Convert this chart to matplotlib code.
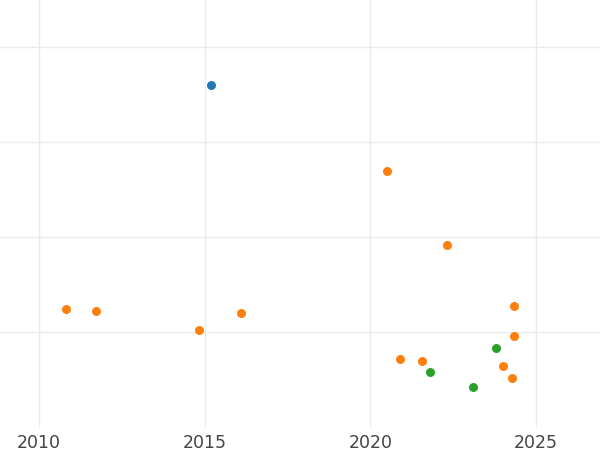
import matplotlib
matplotlib.use("Agg")
import matplotlib.pyplot as plt

# three groups of points (year, value)
blue_x = [2015.19]
blue_y = [3.60]

orange_x = [2020.50, 2022.31, 2010.81, 2011.72, 2014.83, 2016.09,
            2024.33, 2024.33, 2020.89, 2021.56, 2024.00, 2024.27]
orange_y = [2.695, 1.916, 1.242, 1.221, 1.021, 1.200,
            1.274, 0.958, 0.716, 0.695, 0.642, 0.516]

green_x = [2023.79, 2021.80, 2023.10]
green_y = [0.832, 0.579, 0.421]

year_ticks = [2010, 2015, 2020, 2025]
value_grid = [1, 2, 3, 4]

fig = plt.figure(figsize=(6, 4.5), dpi=100)
ax = fig.add_axes([0, 50 / 450 - 27 / 450, 1, 427 / 450])

ax.scatter(blue_x, blue_y, s=42, color="#1f77b4", linewidths=0, zorder=3)
ax.scatter(orange_x, orange_y, s=42, color="#ff7f0e", linewidths=0, zorder=3)
ax.scatter(green_x, green_y, s=42, color="#2ca02c", linewidths=0, zorder=3)

ax.set_xlim(2008.82, 2026.93)
ax.set_ylim(0, 4.495)
ax.set_xticks(year_ticks)
ax.set_xticklabels([str(y) for y in year_ticks])
ax.set_yticks(value_grid)
ax.set_yticklabels([])

ax.grid(True, color="#ebebeb", linewidth=1)
ax.set_axisbelow(True)
for s in ax.spines.values():
    s.set_visible(False)
ax.tick_params(axis="both", length=0)
ax.tick_params(axis="x", labelsize=12.5, labelcolor="#444444", pad=5)

fig.savefig("out.png", dpi=100)
